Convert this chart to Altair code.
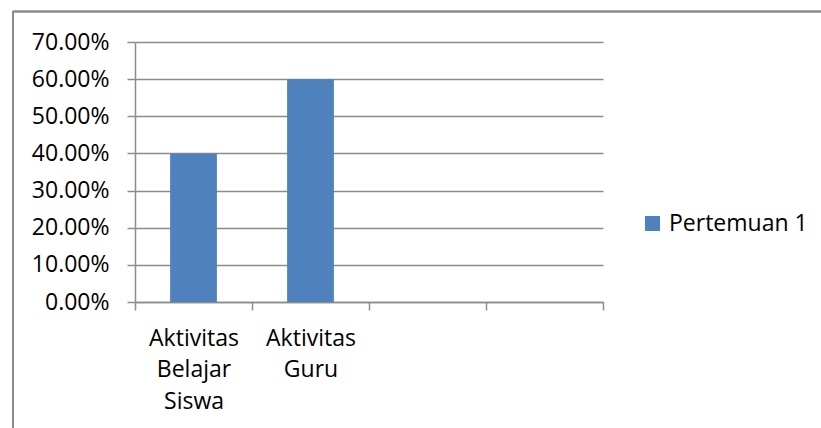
import altair as alt
import pandas as pd

categories = ["Aktivitas Belajar Siswa", "Aktivitas Guru"]
all_slots = ["Aktivitas Belajar Siswa", "Aktivitas Guru", "slot3", "slot4"]
values = [0.40, 0.60]
series = "Pertemuan 1"

df = pd.DataFrame({"cat": categories, "val": values, "series": [series] * len(categories)})

FONT = "Open Sans"
GRID = "#8c8c8c"
BLUE = "#4F81BD"
FS = 23

bars = alt.Chart(df).mark_bar(width=alt.RelativeBandSize(0.4)).encode(
    x=alt.X(
        "cat:N",
        sort=all_slots,
        scale=alt.Scale(domain=all_slots, paddingInner=0, paddingOuter=0),
        axis=alt.Axis(
            title=None,
            labelAngle=0,
            tickBand="extent",
            labelExpr="(isString(datum.label) && indexof(datum.label, 'slot') != 0) ? split(datum.label, ' ') : ''",
            labelFont=FONT,
            labelFontSize=FS,
            labelColor="#000000",
            labelLineHeight=31.5,
            labelBaseline="top",
            labelPadding=17,
            tickSize=8,
            tickColor=GRID,
            tickWidth=1.5,
            domainColor=GRID,
            domainWidth=1.5,
            grid=False,
        ),
    ),
    y=alt.Y(
        "val:Q",
        scale=alt.Scale(domain=[0, 0.7], nice=False),
        axis=alt.Axis(
            title=None,
            format=".2%",
            values=[0, 0.1, 0.2, 0.3, 0.4, 0.5, 0.6, 0.7],
            labelFont=FONT,
            labelFontSize=FS,
            labelColor="#000000",
            labelPadding=18,
            tickSize=8,
            tickColor=GRID,
            tickWidth=1.5,
            domainColor=GRID,
            domainWidth=1.5,
            grid=True,
            gridColor=GRID,
            gridWidth=1.5,
        ),
    ),
    color=alt.Color(
        "series:N",
        scale=alt.Scale(range=[BLUE]),
        legend=alt.Legend(
            title=None,
            orient="none",
            legendX=506,
            legendY=170,
            padding=0,
            symbolType="square",
            symbolSize=225,
            symbolStrokeWidth=0,
            labelFont=FONT,
            labelFontSize=FS,
            labelColor="#000000",
            labelOffset=5,
        ),
    ),
)

border_top = alt.Chart(df).mark_rule(color="#8c8c8c", strokeWidth=2).encode(
    x=alt.value(-122), x2=alt.value(700), y=alt.value(-30.5)
)
border_left = alt.Chart(df).mark_rule(color="#8c8c8c", strokeWidth=2).encode(
    x=alt.value(-122), y=alt.value(-31), y2=alt.value(400)
)

chart = alt.layer(bars, border_top, border_left).properties(
    width=468,
    height=260,
    autosize=alt.AutoSizeParams(type="none"),
    padding={"left": 135, "top": 42, "right": 218, "bottom": 126},
).configure(background="white").configure_view(stroke=None)

chart.save("out.html", embed_options={"renderer": "svg", "actions": False})
